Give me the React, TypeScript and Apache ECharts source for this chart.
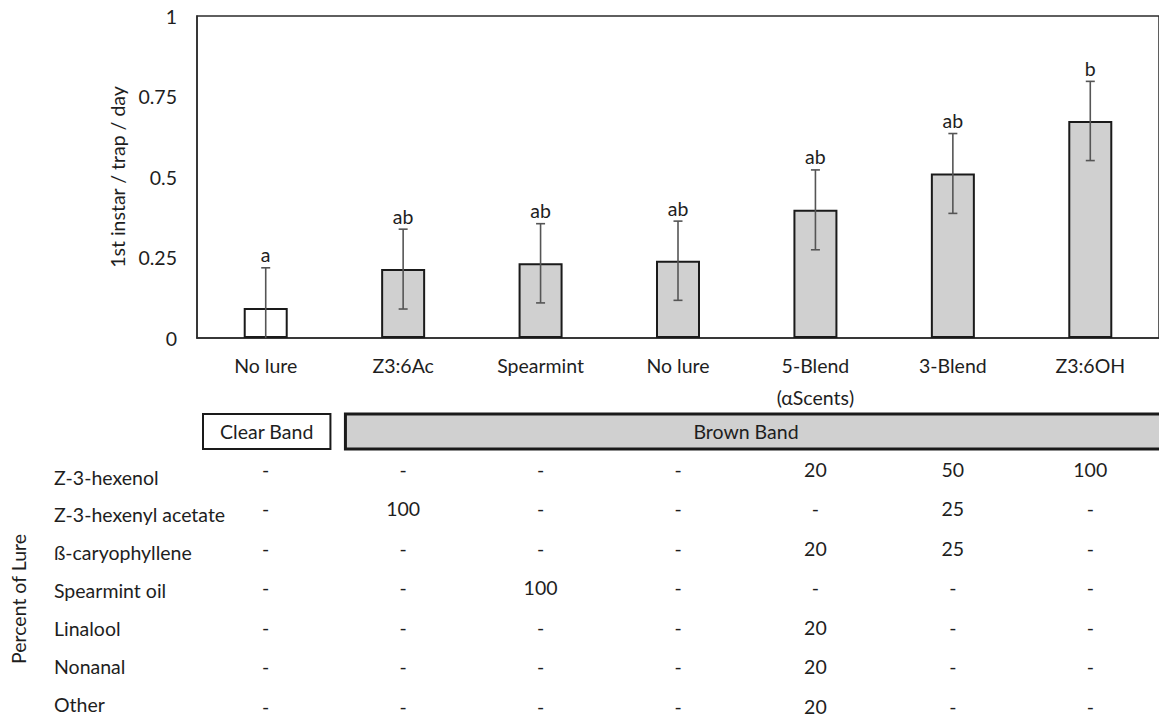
import React, { useEffect, useRef } from "react";
import * as echarts from "echarts";

// Lure treatments along the x axis
const lures = ["No lure", "Z3:6Ac", "Spearmint", "No lure", "5-Blend\n(αScents)", "3-Blend", "Z3:6OH"];
// Trap band each treatment was tested on
const bandOfLure = ["clear", "brown", "brown", "brown", "brown", "brown", "brown"];
// Mean 1st instar captures per trap per day and their error (± SE)
const meanCatch = [0.093, 0.214, 0.232, 0.24, 0.398, 0.511, 0.674];
const seCatch = [0.125, 0.124, 0.123, 0.123, 0.124, 0.124, 0.123];
// Significance groupings
const groupLetters = ["a", "ab", "ab", "ab", "ab", "ab", "b"];

const yTicks = [0, 0.25, 0.5, 0.75, 1];

// Lure composition (percent), one row per compound, one column per lure
const compounds = [
  "Z-3-hexenol",
  "Z-3-hexenyl acetate",
  "ß-caryophyllene",
  "Spearmint oil",
  "Linalool",
  "Nonanal",
  "Other",
];
const hexenol = [null, null, null, null, 20, 50, 100];
const hexenylAcetate = [null, 100, null, null, null, 25, null];
const caryophyllene = [null, null, null, null, 20, 25, null];
const spearmintOil = [null, null, 100, null, null, null, null];
const linalool = [null, null, null, null, 20, null, null];
const nonanal = [null, null, null, null, 20, null, null];
const other = [null, null, null, null, 20, null, null];
const composition: (number | null)[][] = [
  hexenol,
  hexenylAcetate,
  caryophyllene,
  spearmintOil,
  linalool,
  nonanal,
  other,
];

const bandTitles = { clear: "Clear Band", brown: "Brown Band" };

const FONT = "Lato, 'Open Sans', sans-serif";
const FS = 19.5;
const INK = "#1e1e1e";
const LINE = "#2b2b2b";
const GREY = "#d0d0d0";

export default function App() {
  const ref = useRef<HTMLDivElement>(null);

  useEffect(() => {
    if (!ref.current) return;
    const chart = echarts.init(ref.current, undefined, { renderer: "svg" });

    chart.setOption({
      animation: false,
      textStyle: { fontFamily: FONT },
      grid: {
        left: 197,
        top: 16,
        right: -4,
        height: 322,
        show: true,
        borderColor: LINE,
        borderWidth: 1.5,
        backgroundColor: "transparent",
      },
      xAxis: {
        type: "category",
        data: lures,
        axisLine: { show: true, lineStyle: { color: LINE, width: 1.5 } },
        axisTick: { show: false },
        axisLabel: {
          color: INK,
          fontSize: FS,
          fontFamily: FONT,
          margin: 11,
          lineHeight: 32,
          verticalAlign: "top",
        },
      },
      yAxis: {
        type: "value",
        min: 0,
        max: 1,
        interval: 0.25,
        name: "1st instar / trap / day",
        nameLocation: "middle",
        nameGap: 70,
        nameTextStyle: { color: INK, fontSize: FS, fontFamily: FONT },
        axisLine: { show: true, lineStyle: { color: LINE, width: 1.5 } },
        axisTick: { show: false },
        splitLine: { show: false },
        axisLabel: {
          color: INK,
          fontSize: FS,
          fontFamily: FONT,
          margin: 20,
          formatter: (v: number) => (yTicks.includes(v) ? String(v) : ""),
        },
      },
      series: [
        {
          type: "bar",
          data: meanCatch.map((v, i) => ({
            value: v,
            itemStyle: { color: bandOfLure[i] === "clear" ? "#ffffff" : GREY },
          })),
          barWidth: 44,
          itemStyle: { borderColor: "#1a1a1a", borderWidth: 2 },
          z: 2,
        },
        {
          type: "custom",
          z: 5,
          data: meanCatch.map((m, i) => [i, m, seCatch[i]]),
          renderItem: (params: any, api: any) => {
            const i = api.value(0);
            const m = api.value(1);
            const e = api.value(2);
            const hi = api.coord([i, m + e]);
            const loVal = m - e;
            const lo = api.coord([i, Math.max(0, loVal)]);
            const cap = 4.5;
            const style = { stroke: "#555555", lineWidth: 1.6 };
            const children: any[] = [
              { type: "line", shape: { x1: hi[0], y1: hi[1], x2: lo[0], y2: lo[1] }, style },
              { type: "line", shape: { x1: hi[0] - cap, y1: hi[1], x2: hi[0] + cap, y2: hi[1] }, style },
            ];
            if (loVal > 0) {
              children.push({
                type: "line",
                shape: { x1: lo[0] - cap, y1: lo[1], x2: lo[0] + cap, y2: lo[1] },
                style,
              });
            }
            children.push({
              type: "text",
              style: {
                text: groupLetters[params.dataIndex],
                x: hi[0],
                y: hi[1] - 3,
                align: "center",
                verticalAlign: "bottom",
                fill: INK,
                font: `${FS}px ${FONT}`,
              },
            });
            return { type: "group", children };
          },
        },
      ],
    });

    // Composition table under the chart, columns aligned to the x axis categories
    const cx = lures.map((_, i) => chart.convertToPixel({ xAxisIndex: 0 }, i) as number);
    const step = cx.length > 1 ? cx[1] - cx[0] : 138;
    const graphics: any[] = [];

    // Band header boxes
    const clearIdx = bandOfLure.map((b, i) => (b === "clear" ? i : -1)).filter((i) => i >= 0);
    const brownIdx = bandOfLure.map((b, i) => (b === "brown" ? i : -1)).filter((i) => i >= 0);
    const boxTop = 414;
    const boxH = 35;
    const c0 = cx[clearIdx[0]];
    graphics.push({
      type: "rect",
      shape: { x: c0 - step / 2 + 6, y: boxTop, width: step - 10, height: boxH },
      style: { fill: "#ffffff", stroke: "#1a1a1a", lineWidth: 2 },
    });
    graphics.push({
      type: "text",
      style: {
        text: bandTitles.clear,
        x: c0 + 1,
        y: boxTop + boxH / 2,
        align: "center",
        verticalAlign: "middle",
        fill: INK,
        font: `${FS}px ${FONT}`,
      },
    });
    const b0 = cx[brownIdx[0]] - step / 2 + 11;
    const b1 = cx[brownIdx[brownIdx.length - 1]] + step / 2 + 10;
    graphics.push({
      type: "rect",
      shape: { x: b0, y: boxTop, width: b1 - b0, height: boxH },
      style: { fill: GREY, stroke: "#1a1a1a", lineWidth: 3 },
    });
    graphics.push({
      type: "text",
      style: {
        text: bandTitles.brown,
        x: 746,
        y: boxTop + boxH / 2,
        align: "center",
        verticalAlign: "middle",
        fill: INK,
        font: `${FS}px ${FONT}`,
      },
    });

    // Compound names and percentages
    compounds.forEach((name, r) => {
      graphics.push({
        type: "text",
        style: {
          text: name,
          x: 54,
          y: 477 + r * 37.9,
          align: "left",
          verticalAlign: "middle",
          fill: INK,
          font: `${FS}px ${FONT}`,
        },
      });
      composition[r].forEach((val, c) => {
        graphics.push({
          type: "text",
          style: {
            text: val === null ? "-" : String(val),
            x: cx[c],
            y: 469 + r * 39.5,
            align: "center",
            verticalAlign: "middle",
            fill: INK,
            font: `${FS}px ${FONT}`,
          },
        });
      });
    });

    graphics.push({
      type: "text",
      rotation: Math.PI / 2,
      x: 18,
      y: 599,
      style: {
        text: "Percent of Lure",
        x: 0,
        y: 0,
        align: "center",
        verticalAlign: "middle",
        fill: INK,
        font: `${FS}px ${FONT}`,
      },
    });

    chart.setOption({ graphic: graphics });

    return () => chart.dispose();
  }, []);

  return (
    <div
      style={{
        position: "fixed",
        left: 0,
        top: 0,
        width: 1159,
        height: 717,
        overflow: "hidden",
        background: "#ffffff",
      }}
    >
      <div ref={ref} style={{ width: 1159, height: 717 }} />
    </div>
  );
}
